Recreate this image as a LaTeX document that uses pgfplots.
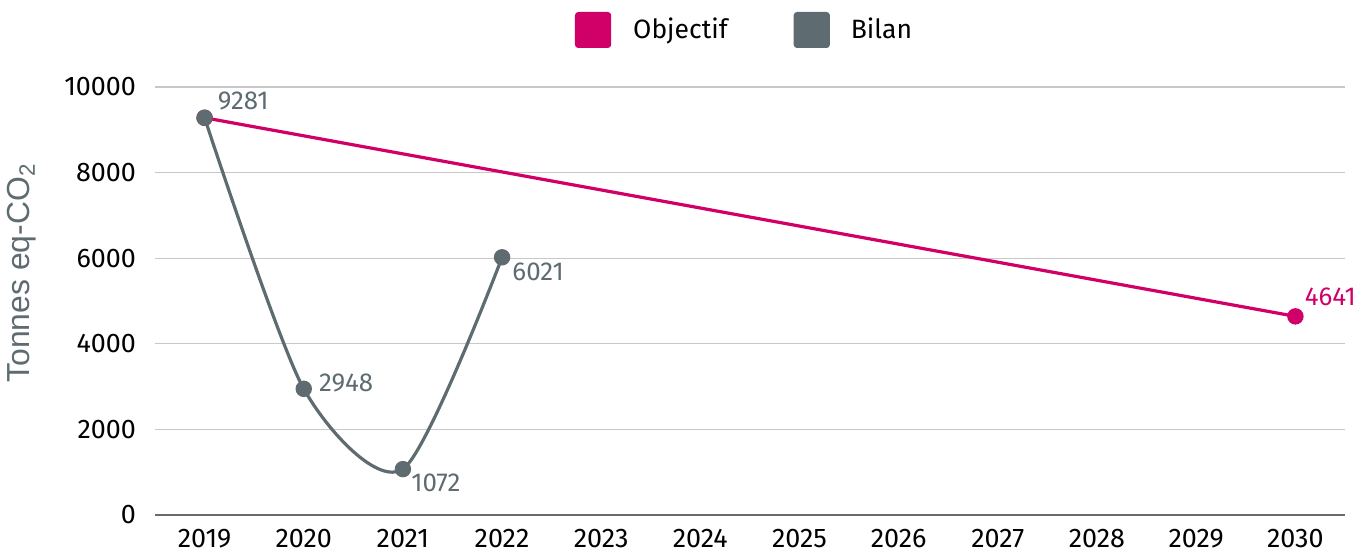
\documentclass[border=0pt]{standalone}
\usepackage{fontspec}
\setmainfont{Fira Sans}
\newfontfamily\labfont{Liberation Sans}
\usepackage{pgfplots}
\pgfplotsset{compat=1.18}
\definecolor{pinkc}{HTML}{D00068}
\definecolor{grayc}{HTML}{5E6B70}
\definecolor{gridc}{HTML}{C8C8C8}
\definecolor{axisc}{HTML}{6A6A6A}
\begin{document}
\begin{tikzpicture}
\useasboundingbox (-77.5bp,-20.5bp) rectangle (605bp,257.5bp);
\begin{axis}[
  at={(0,0)}, anchor=origin,
  scale only axis, width=595bp, height=214bp,
  xmin=2018.5, xmax=2030.5, ymin=0, ymax=10000,
  xtick={2019,...,2030}, ytick={0,2000,...,10000},
  /pgf/number format/assume math mode=true,
  xticklabel={\pgfmathprintnumber[1000 sep={}]{\tick}},
  yticklabel={\pgfmathprintnumber[1000 sep={}]{\tick}},
  scaled y ticks=false,
  tick style={draw=none},
  ymajorgrids, grid style={gridc, line width=0.6bp},
  axis x line*=bottom,
  axis y line*=left,
  x axis line style={draw=axisc, line width=1.2bp, -},
  y axis line style={draw=none},
  ticklabel style={font=\fontsize{13.5}{15}\selectfont, text=black},
  xticklabel style={yshift=-3.5bp},
  yticklabel style={xshift=-6bp},
  legend columns=2,
  legend style={draw=none, fill=none, at={(0.5,1)}, yshift=28.5bp, xshift=-3bp, anchor=center,
    font=\fontsize{13.3}{15}\selectfont,
    /tikz/every even column/.append style={column sep=31bp}},
  legend cell align=left,
  clip=false,
]
\addplot[pinkc, line width=1.6bp, mark=*, mark size=3.3bp, mark options={fill=pinkc, draw=pinkc},
  legend image code/.code={\path (0bp,0bp); \fill[pinkc, rounded corners=1bp] (1.5bp,-8.2bp) rectangle (18bp,8.2bp);}]
  coordinates {(2019,9281) (2030,4641)};
\addlegendentry{\hspace{9bp}Objectif}
\addplot[grayc, line width=1.6bp, smooth, tension=0.45, mark=*, mark size=3.3bp, mark options={fill=grayc, draw=grayc},
  legend image code/.code={\fill[grayc, rounded corners=1bp] (0bp,-8.2bp) rectangle (16.5bp,8.2bp);}]
  coordinates {(2019,9281) (2020,2948) (2021,1072) (2022,6021)};
\addlegendentry{\hspace{8.5bp}Bilan}
\begin{scope}[every node/.style={font=\fontsize{13}{15}\selectfont, inner sep=0pt}]
\node[grayc, anchor=west] at (axis cs:2019,9281) [xshift=6.5bp, yshift=8.5bp] {9281};
\node[grayc, anchor=west] at (axis cs:2020,2948) [xshift=7.5bp, yshift=3bp] {2948};
\node[grayc, anchor=west] at (axis cs:2021,1072) [xshift=4bp, yshift=-7bp] {1072};
\node[grayc, anchor=west] at (axis cs:2022,6021) [xshift=5bp, yshift=-7.5bp] {6021};
\node[pinkc, anchor=west] at (axis cs:2030,4641) [xshift=4.5bp, yshift=10bp] {4641};
\end{scope}
\node[xshift=-66.5bp, yshift=14bp, rotate=90, grayc, font=\labfont\fontsize{16}{18}\selectfont] at (rel axis cs:0,0.5) {Tonnes eq-CO\textsubscript{2}};
\end{axis}
\end{tikzpicture}
\end{document}
